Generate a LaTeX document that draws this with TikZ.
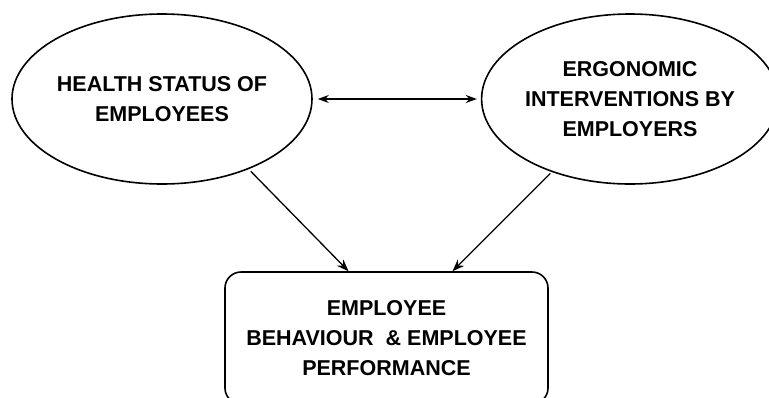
\documentclass[tikz,border=0pt]{standalone}
\usepackage{fontspec}
\setmainfont{Liberation Sans}
\usetikzlibrary{shapes.geometric,arrows.meta}
\begin{document}
\begin{tikzpicture}[x=1pt,y=-1pt,
  label text/.style={font=\bfseries\fontsize{21.5}{30}\selectfont,align=center,text=black},
  oval/.style={draw,line width=1.6pt,ellipse,inner sep=0pt,label text},
  outcome/.style={draw,line width=1.6pt,rounded corners=16pt,inner sep=0pt,label text},
  link/.style={line width=1.3pt,-{Stealth[length=12pt,width=9pt]}},
  both/.style={line width=1.3pt,{Stealth[length=11pt,width=8pt]}-{Stealth[length=11pt,width=8pt]}}]
  \clip (0,0) rectangle (769,397);
  \fill[white] (0,0) rectangle (769,397);

  % the two causes
  \node[oval,minimum width=300pt,minimum height=170pt] (health) at (162,99)
    {HEALTH STATUS OF\\EMPLOYEES};
  \node[oval,minimum width=296pt,minimum height=170pt] (ergo) at (630,99)
    {ERGONOMIC\\INTERVENTIONS BY\\EMPLOYERS};

  % the outcome
  \node[outcome,minimum width=323pt,minimum height=132pt] (perf) at (386.5,338)
    {EMPLOYEE\\BEHAVIOUR\ \ \& EMPLOYEE\\PERFORMANCE};

  % relations
  \draw[both,shorten <=5pt,shorten >=4pt] (health) -- (ergo);
  \draw[link,shorten <=3pt] (health.-39) -- ([xshift=-38pt]perf.north);
  \draw[link,shorten <=2pt] (ergo.-137) -- ([xshift=66pt]perf.north);
\end{tikzpicture}
\end{document}
